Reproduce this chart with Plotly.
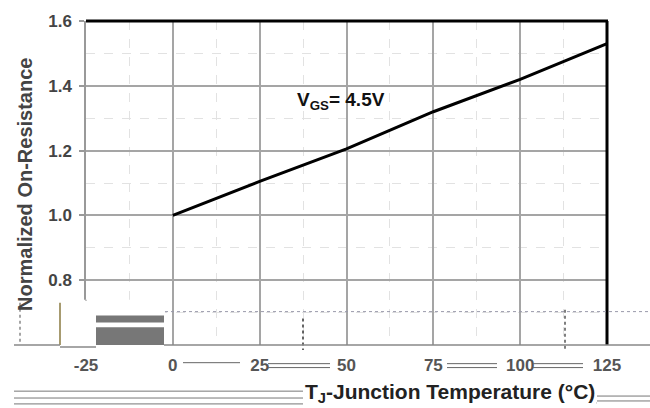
import plotly.graph_objects as go

# Data
temps = [0, 25, 50, 75, 100, 125]
norm_rds = [1.0, 1.105, 1.205, 1.32, 1.42, 1.53]
x_ticks = [-25, 0, 25, 50, 75, 100, 125]
x_tick_text = ["<b>-25</b>", "<b>0</b>", "<b>25</b>", "<b>50</b>", "<b>75</b>", "<b>100</b>", "<b>125</b>"]
y_ticks = [0.8, 1.0, 1.2, 1.4, 1.6]
y_tick_text = ["<b>0.8</b>", "<b>1.0</b>", "<b>1.2</b>", "<b>1.4</b>", "<b>1.6</b>"]

W, H = 650, 408
L, R, T, B = 86, 607, 15, 345

def px(x):
    return (x - L) / (R - L)

def py(y):
    return (B - y) / (B - T)

FONT = "Arial, Liberation Sans, sans-serif"

fig = go.Figure()
fig.add_trace(go.Scatter(x=temps, y=norm_rds, mode="lines",
                         line=dict(color="black", width=3), showlegend=False,
                         hoverinfo="skip"))

shapes = []
def hline(x0, x1, y, color="#777", width=1.5, dash="solid"):
    shapes.append(dict(type="line", xref="paper", yref="paper",
                       x0=px(x0), x1=px(x1), y0=py(y), y1=py(y),
                       line=dict(color=color, width=width, dash=dash), layer="above"))
def vline(x, y0, y1, color="#777", width=1.5, dash="solid"):
    shapes.append(dict(type="line", xref="paper", yref="paper",
                       x0=px(x), x1=px(x), y0=py(y0), y1=py(y1),
                       line=dict(color=color, width=width, dash=dash), layer="above"))
def rect(x0, y0, x1, y1, color):
    shapes.append(dict(type="rect", xref="paper", yref="paper",
                       x0=px(x0), x1=px(x1), y0=py(y1), y1=py(y0),
                       line=dict(width=0), fillcolor=color, layer="above"))

# frame: black top and right
hline(L, R + 1, T, color="black", width=3)
vline(R, T, B, color="black", width=3)

# scan artefacts in the lower strip
rect(0, 299, 165, 346, "white")
vline(86, 299, 300, color="#999")
rect(96, 315, 164, 322, "#777")
rect(96, 327, 164, 345, "#777")
vline(60, 302, 345, color="#8a7a40", width=1.5)
vline(20, 302, 343, color="#888", width=1.5, dash="dot")
hline(165, 650, 311, color="#99a", width=1, dash="dot")
vline(303, 318, 350, color="#333", width=1.5, dash="dot")
vline(565, 309, 352, color="#555", width=1.5, dash="dot")
hline(14, 60, 345, color="#888", width=1.5)
hline(60, 96, 347, color="#888", width=1.5)
hline(164, 650, 345, color="#888", width=1.5)

# lines between tick labels
hline(183, 240, 363, color="#666", width=1)
for yy in (364, 368):
    hline(268, 330, yy, color="#666", width=1)
    hline(447, 497, yy, color="#666", width=1)
    hline(533, 583, yy, color="#666", width=1)
# lines around axis title
for yy in (392, 399, 405):
    hline(14, 303, yy, color="#777", width=1)
for yy in (397, 402):
    hline(597, 650, yy, color="#777", width=1)
hline(345, 597, 404, color="#777", width=1)

annotations = [
    dict(text="<b>V<sub>GS</sub>= 4.5V</b>", x=px(341), y=py(96), xref="paper", yref="paper",
         showarrow=False, font=dict(family=FONT, size=19, color="#111"),
         xanchor="center", yanchor="middle"),
    dict(text="<b>Normalized On-Resistance</b>", x=px(25), y=py(182), xref="paper", yref="paper",
         showarrow=False, textangle=-90, font=dict(family=FONT, size=20, color="#444"),
         xanchor="center", yanchor="middle"),
    dict(text="<b>T<sub>J</sub>-Junction Temperature (°C)</b>", x=px(450), y=py(394),
         xref="paper", yref="paper", showarrow=False,
         font=dict(family=FONT, size=21, color="#222"), xanchor="center", yanchor="middle",
         bgcolor="white"),
]

fig.update_layout(
    width=W, height=H,
    margin=dict(l=L, r=W - R, t=T, b=H - B),
    paper_bgcolor="white", plot_bgcolor="white",
    shapes=shapes, annotations=annotations,
    xaxis=dict(range=[-25, 125], tickmode="array", tickvals=x_ticks, ticktext=x_tick_text,
               showgrid=True, gridcolor="#a5a5a5", gridwidth=1.5,
               minor=dict(dtick=12.5, tick0=0, showgrid=True, gridcolor="#e2e2e2",
                          griddash="dash", gridwidth=1),
               showline=False, zeroline=False, ticks="", ticklabelstandoff=8,
               tickfont=dict(family=FONT, size=17, color="#555")),
    yaxis=dict(range=[0.6, 1.6], tickmode="array", tickvals=y_ticks, ticktext=y_tick_text,
               showgrid=True, gridcolor="#a5a5a5", gridwidth=1.5,
               minor=dict(dtick=0.1, tick0=0.6, showgrid=True, gridcolor="#e2e2e2",
                          griddash="dash", gridwidth=1),
               showline=True, linecolor="#999", linewidth=1.5, zeroline=False,
               ticks="outside", ticklen=5, tickcolor="#999", tickwidth=1.5,
               ticklabelstandoff=4,
               tickfont=dict(family=FONT, size=17, color="#444")),
)

fig.write_html("out.html", config={"displayModeBar": False},
               post_script="document.body.style.margin='0';document.body.style.overflow='hidden';")
